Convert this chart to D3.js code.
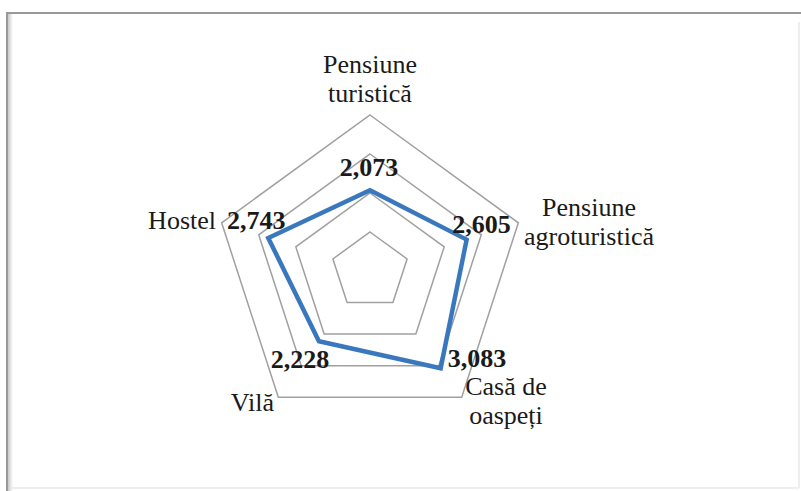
<!DOCTYPE html>
<html>
<head>
<meta charset="utf-8">
<script src="https://cdn.jsdelivr.net/npm/d3@7"></script>
<style>
  body { margin: 0; background: #fff; }
  svg { display: block; }
  text { font-family: "Liberation Serif", "Times New Roman", serif; fill: #1a1a1a; }
</style>
</head>
<body>
<div class="radar-container"></div>
<script>
// categories (clockwise from top)
const categories = [
    ['Pensiune', 'turistică'],
    ['Pensiune', 'agroturistică'],
    ['Casă de', 'oaspeți'],
    ['Vilă'],
    ['Hostel']
];
const values = [2.073, 2.605, 3.083, 2.228, 2.743];
const valueLabels = ['2,073', '2,605', '3,083', '2,228', '2,743'];
const gridTicks = [1, 2, 3, 4];

// label placement (layout only)
const labelOffsets = [
    {dx: -1, dy: -14, anchor: 'middle'},
    {dx: 15, dy: -7, anchor: 'middle'},
    {dx: 7, dy: -1, anchor: 'start'},
    {dx: -19, dy: 27, anchor: 'middle'},
    {dx: -12, dy: -9, anchor: 'middle'}
];
const catLayout = [
    {x: 370, y: 73, anchor: 'middle'},
    {x: 589, y: 216, anchor: 'middle'},
    {x: 506, y: 395, anchor: 'middle'},
    {x: 274, y: 411, anchor: 'end'},
    {x: 216, y: 229, anchor: 'end'}
];

function setupCanvas(){
    const svg_width = 801, svg_height = 491;
    const cx = 370, cy = 271, radius = 156;

    const svg = d3.select('.radar-container')
                  .append('svg')
                  .attr('width', svg_width).attr('height', svg_height);

    // frame with soft inner shadow
    const defs = svg.append('defs');
    const gl = defs.append('linearGradient').attr('id', 'shadowL');
    gl.append('stop').attr('offset', '0%').attr('stop-color', '#c8c8c8');
    gl.append('stop').attr('offset', '100%').attr('stop-color', '#ffffff');
    svg.append('rect').attr('x', 8).attr('y', 14).attr('width', 5).attr('height', 477)
        .attr('fill', 'url(#shadowL)');
    svg.append('line').attr('x1', 799).attr('x2', 799).attr('y1', 22).attr('y2', 488)
        .attr('stroke', '#eeeeee').attr('stroke-width', 2);
    svg.append('line').attr('x1', 12).attr('x2', 799).attr('y1', 488).attr('y2', 488)
        .attr('stroke', '#eeeeee').attr('stroke-width', 2);
    svg.append('line').attr('x1', 6).attr('x2', 801).attr('y1', 13).attr('y2', 13)
        .attr('stroke', '#999999').attr('stroke-width', 2);
    svg.append('line').attr('x1', 7).attr('x2', 7).attr('y1', 12).attr('y2', 491)
        .attr('stroke', '#999999').attr('stroke-width', 2);

    const g = svg.append('g').attr('transform', `translate(${cx},${cy})`);

    const rScale = d3.scaleLinear().domain([0, 4]).range([0, radius]);
    const aScale = d3.scaleLinear().domain([0, categories.length]).range([0, 2 * Math.PI]);

    const radial = d3.lineRadial()
                     .angle((d, i) => aScale(i))
                     .radius(d => rScale(d))
                     .curve(d3.curveLinearClosed);

    // grid pentagons
    g.selectAll('.grid')
     .data(gridTicks).enter()
     .append('path')
       .attr('class', 'grid')
       .attr('d', t => radial(categories.map(() => t)))
       .attr('fill', 'none')
       .attr('stroke', '#a0a0a0')
       .attr('stroke-width', 1.5);

    // series
    g.append('path')
     .attr('d', radial(values))
     .attr('fill', 'none')
     .attr('stroke', '#3a78be')
     .attr('stroke-width', 4.5)
     .attr('stroke-linejoin', 'miter');

    const pt = (v, i) => {
        const a = aScale(i), r = rScale(v);
        return [r * Math.sin(a), -r * Math.cos(a)];
    };

    // value labels
    g.selectAll('.val')
     .data(values).enter()
     .append('text')
       .attr('class', 'val')
       .attr('x', (d, i) => pt(d, i)[0] + labelOffsets[i].dx)
       .attr('y', (d, i) => pt(d, i)[1] + labelOffsets[i].dy)
       .attr('text-anchor', (d, i) => labelOffsets[i].anchor)
       .style('font-size', '26px')
       .style('font-weight', 'bold')
       .text((d, i) => valueLabels[i]);

    // category labels
    const cats = svg.selectAll('.cat')
                    .data(categories).enter()
                    .append('text')
                      .attr('class', 'cat')
                      .attr('text-anchor', (d, i) => catLayout[i].anchor)
                      .style('font-size', '26px');
    cats.each(function(lines, i){
        d3.select(this).selectAll('tspan')
          .data(lines).enter()
          .append('tspan')
            .attr('x', catLayout[i].x)
            .attr('y', (l, j) => catLayout[i].y + j * 29)
            .text(l => l);
    });
}

setupCanvas();
</script>
</body>
</html>
